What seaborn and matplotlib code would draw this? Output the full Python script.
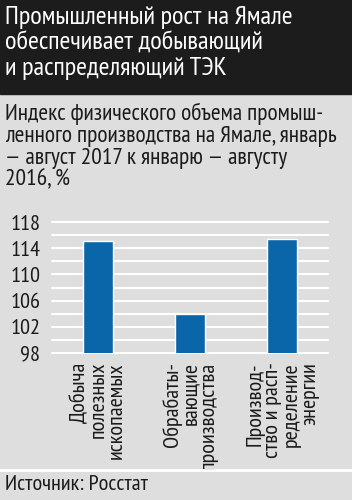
import matplotlib
matplotlib.use('Agg')
import matplotlib.pyplot as plt
import seaborn as sns
import pandas as pd
from matplotlib.patches import Rectangle

# data
categories = ['Добыча\nполезных\nископаемых',
              'Обрабаты-\nвающие\nпроизводства',
              'Производ-\nство и расп-\nределение\nэнергии']
values = [115.1, 104.0, 115.4]
y_ticks = [98, 102, 106, 110, 114, 118]
grid_levels = list(range(98, 119, 2))

title = 'Промышленный рост на Ямале\nобеспечивает добывающий\nи распределяющий ТЭК'
subtitle = ('Индекс физического объема промыш-\nленного производства на Ямале, январь\n'
            '— август 2017 к январю — августу\n2016, %')
source = 'Источник: Росстат'

BG = '#dedede'
BAR = '#0a66a8'
HEAD = '#1c1c1c'
INK = '#1a1a1a'

sns.set_style('white')
plt.rcParams['font.family'] = ['PT Sans Narrow', 'DejaVu Sans']

fig = plt.figure(figsize=(3.52, 5.0), dpi=100)
fig.patch.set_facecolor(BG)

# header block
fig.add_artist(Rectangle((0, 1 - 94 / 500), 1, 94 / 500, transform=fig.transFigure,
                         color=HEAD, zorder=0))
fig.text(5 / 352, 1 - 6 / 500, title, color='white', fontsize=19,
         va='top', ha='left', linespacing=1.13)
fig.text(5 / 352, 1 - 103 / 500, subtitle, color=INK, fontsize=16.8,
         va='top', ha='left', linespacing=1.04)

# separator above source
fig.add_artist(plt.Line2D([0, 1], [1 - 470 / 500] * 2, transform=fig.transFigure,
                          color='white', lw=2))
fig.text(5 / 352, 1 - 485 / 500, source, color=INK, fontsize=16,
         va='center', ha='left')

ax = fig.add_axes([52 / 352, 147 / 500, 276 / 352, 131 / 500])
ax.set_facecolor('none')
df = pd.DataFrame({'cat': categories, 'val': values})
sns.barplot(data=df, x='cat', y='val', color=BAR, saturation=1, width=0.32, ax=ax, zorder=3)
for g in grid_levels:
    ax.axhline(g, color='white', lw=1.5, zorder=1, clip_on=False)
ax.set_ylim(98, 118)
ax.set_xlim(-0.5, 2.5)
ax.set_yticks(y_ticks)
ax.set_yticklabels([str(t) for t in y_ticks], fontsize=16)
ax.tick_params(axis='y', length=0, pad=8.5, colors=INK)
ax.tick_params(axis='x', length=0, pad=6.5, colors=INK)
for lab in ax.get_xticklabels():
    lab.set_rotation(90)
    lab.set_fontsize(16)
    lab.set_multialignment('right')
    lab.set_linespacing(0.95)
    lab.set_va('top')
    lab.set_ha('center')
ax.set_xlabel('')
ax.set_ylabel('')
for s in ax.spines.values():
    s.set_visible(False)

fig.savefig('out.png', dpi=100, facecolor=fig.get_facecolor())
